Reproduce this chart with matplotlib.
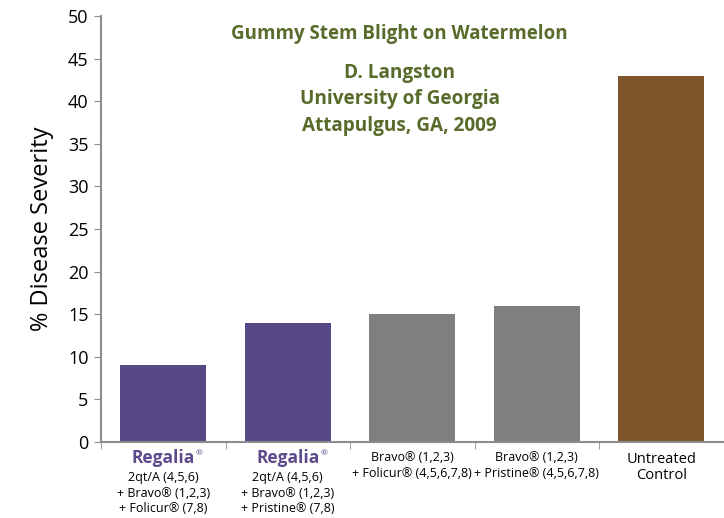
import matplotlib.pyplot as plt
from matplotlib.ticker import FixedLocator

plt.rcParams['font.family'] = ['Open Sans', 'DejaVu Sans']

# data
treatments = ['Regalia + Bravo + Folicur', 'Regalia + Bravo + Pristine',
              'Bravo + Folicur', 'Bravo + Pristine', 'Untreated Control']
severity = [9, 14, 15, 16, 43]
bar_colors = ['#584887', '#584887', '#7f7f7f', '#7f7f7f', '#7f562c']

label_lines = [
    ['2qt/A (4,5,6)', '+ Bravo® (1,2,3)', '+ Folicur® (7,8)'],
    ['2qt/A (4,5,6)', '+ Bravo® (1,2,3)', '+ Pristine® (7,8)'],
    ['Bravo® (1,2,3)', '+ Folicur® (4,5,6,7,8)'],
    ['Bravo® (1,2,3)', '+ Pristine® (4,5,6,7,8)'],
]

fig = plt.figure(figsize=(7.24, 5.18), dpi=100)
ax = fig.add_axes([101 / 724, 76 / 518, 622.5 / 724, 426 / 518])

x = range(len(severity))
ax.bar(x, severity, width=0.69, color=bar_colors, zorder=2)

ax.set_xlim(-0.5, 4.5)
ax.set_ylim(0, 50)
ax.set_yticks(range(0, 51, 5))
ax.tick_params(axis='y', labelsize=13, length=5, color='#8c8c8c', pad=4)

# x ticks sit between the categories
ax.set_xticks([])
ax.xaxis.set_minor_locator(FixedLocator([i - 0.5 for i in range(len(severity) + 1)]))
ax.tick_params(axis='x', which='minor', length=5, color='#8c8c8c')

for side in ['top', 'right']:
    ax.spines[side].set_visible(False)
for side in ['left', 'bottom']:
    ax.spines[side].set_color('#8c8c8c')
    ax.spines[side].set_linewidth(1.5)

ax.set_ylabel('% Disease Severity', fontsize=17, labelpad=10)

# category labels, one text per line so the spacing stays tight
purple = '#5e4b8b'
for i in [0, 1]:
    ax.text(i, -2.46, 'Regalia', ha='center', va='baseline', fontsize=12.5,
            fontweight='bold', color=purple)
    ax.text(i + 0.29, -1.0, '®', ha='center', va='top', fontsize=6,
            color=purple)
    for k, y in enumerate([-4.58, -6.46, -8.22]):
        ax.text(i, y, label_lines[i][k], ha='center', va='baseline', fontsize=9)
for i in [2, 3]:
    for k, y in enumerate([-2.2, -4.05]):
        ax.text(i, y, label_lines[i][k], ha='center', va='baseline', fontsize=9)
ax.text(4, -2.46, 'Untreated', ha='center', va='baseline', fontsize=10.5)
ax.text(4, -4.35, 'Control', ha='center', va='baseline', fontsize=10.5)

green = '#586b2b'
ax.text(1.9, 47.9, 'Gummy Stem Blight on Watermelon', ha='center', va='center',
        fontsize=13.5, fontweight='bold', color=green)
ax.text(1.9, 40.2, 'D. Langston\nUniversity of Georgia\nAttapulgus, GA, 2009',
        ha='center', va='center', fontsize=13.7, fontweight='bold', color=green,
        linespacing=1.45)

fig.savefig('out.png', dpi=100)
